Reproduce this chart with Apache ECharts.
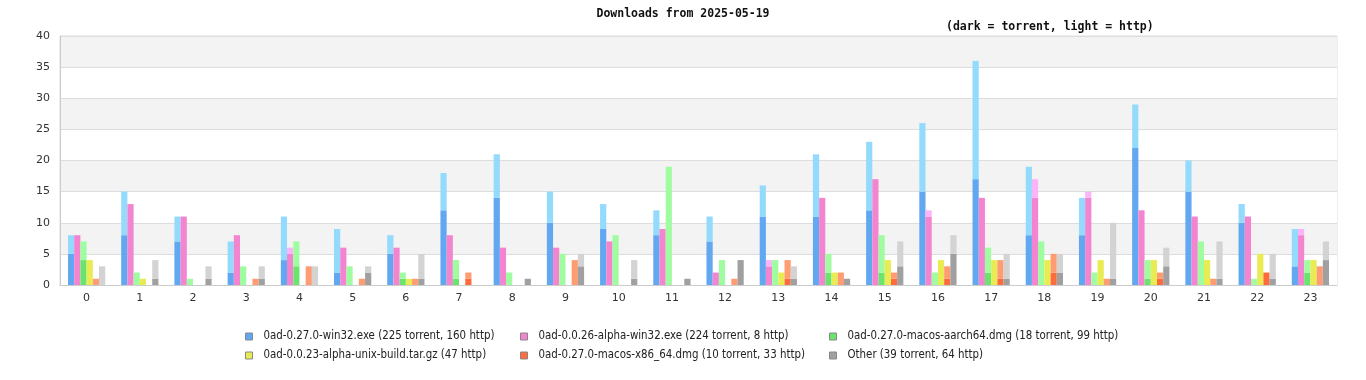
<!DOCTYPE html>
<html>
<head>
<meta charset="utf-8">
<script src="https://cdn.jsdelivr.net/npm/echarts@6/dist/echarts.min.js"></script>
<style>
html,body{margin:0;padding:0;background:#fff;}
#chart{width:1366px;height:380px;}
</style>
</head>
<body>
<div id="chart"></div>
<script>
const hours = ['0','1','2','3','4','5','6','7','8','9','10','11','12','13','14','15','16','17','18','19','20','21','22','23'];
const yTicks = [0, 5, 10, 15, 20, 25, 30, 35, 40];

const seriesNames = [
  '0ad-0.27.0-win32.exe (225 torrent, 160 http)',
  '0ad-0.0.26-alpha-win32.exe (224 torrent, 8 http)',
  '0ad-0.27.0-macos-aarch64.dmg (18 torrent, 99 http)',
  '0ad-0.0.23-alpha-unix-build.tar.gz (47 http)',
  '0ad-0.27.0-macos-x86_64.dmg (10 torrent, 33 http)',
  'Other (39 torrent, 64 http)'
];

const win27Torrent   = [5,8,7,2,4,2,5,12,14,10,9,8,7,11,11,12,15,17,8,8,22,15,10,3];
const win27Http      = [3,7,4,5,7,7,3,6,7,5,4,4,4,5,10,11,11,19,11,6,7,5,3,6];
const win26Torrent   = [8,13,11,8,5,6,6,8,6,6,7,9,2,3,14,17,11,14,14,14,12,11,11,8];
const win26Http      = [0,0,0,0,1,0,0,0,0,0,0,0,0,1,0,0,1,0,3,1,0,0,0,1];
const aarchTorrent   = [4,0,0,0,3,0,1,1,0,0,0,0,0,0,2,2,0,2,0,0,1,0,0,2];
const aarchHttp      = [3,2,1,3,4,3,1,3,2,5,8,19,4,4,3,6,2,4,7,2,3,7,1,2];
const unixTorrent    = [0,0,0,0,0,0,0,0,0,0,0,0,0,0,0,0,0,0,0,0,0,0,0,0];
const unixHttp       = [4,1,0,0,0,0,1,0,0,0,0,0,0,2,2,4,4,4,4,4,4,4,5,4];
const x86Torrent     = [0,0,0,0,0,0,0,1,0,0,0,0,0,1,0,1,1,1,2,0,1,0,2,0];
const x86Http        = [1,0,0,1,3,1,1,1,0,4,0,0,1,3,2,1,2,3,3,1,1,1,0,3];
const otherTorrent   = [0,1,1,1,0,2,1,0,1,3,1,1,4,1,1,3,5,1,2,1,3,1,1,4];
const otherHttp      = [3,3,2,2,3,1,4,0,0,2,3,0,0,2,0,4,3,4,3,9,3,6,4,3];

const darkColors  = ['#62a8f0', '#f384d0', '#6ae46e', '#e8ec52', '#ff6c3c', '#a0a0a0'];
const lightColors = ['#94dafc', '#fcb4f8', '#a0fca0', '#e8ec52', '#ff9c72', '#d3d3d3'];

const torrentData = [win27Torrent, win26Torrent, aarchTorrent, unixTorrent, x86Torrent, otherTorrent];
const httpData    = [win27Http, win26Http, aarchHttp, unixHttp, x86Http, otherHttp];

const series = [];
for (let i = 0; i < seriesNames.length; i++) {
  series.push({
    name: seriesNames[i], type: 'bar', stack: 's' + i,
    data: torrentData[i], itemStyle: { color: darkColors[i] },
    barGap: '0%', barCategoryGap: '30%'
  });
  series.push({
    name: seriesNames[i], type: 'bar', stack: 's' + i,
    data: httpData[i], itemStyle: { color: lightColors[i] },
    barGap: '0%', barCategoryGap: '30%'
  });
}

const legendFont = { fontFamily: 'DejaVu Sans Condensed, DejaVu Sans', fontSize: 11.4, color: '#222', padding: [0, 0, 0, 6] };
function makeLegend(left, names) {
  return {
    orient: 'vertical', left: left, top: 331, padding: 0, itemGap: 8,
    itemWidth: 7, itemHeight: 7, icon: 'rect',
    itemStyle: { borderColor: '#888', borderWidth: 1 },
    textStyle: legendFont, data: names
  };
}

const chart = echarts.init(document.getElementById('chart'), null, { renderer: 'canvas' });
chart.setOption({
  animation: false,
  backgroundColor: '#fff',
  title: [
    { text: 'Downloads from 2025-05-19', left: 'center', top: 3,
      textStyle: { fontFamily: 'DejaVu Sans Mono', fontWeight: 'bold', fontSize: 11.5, color: '#111' } },
    { text: '(dark = torrent, light = http)', left: 941, top: 16,
      textStyle: { fontFamily: 'DejaVu Sans Mono', fontWeight: 'bold', fontSize: 11.5, color: '#111' } }
  ],
  legend: [
    makeLegend(245, [seriesNames[0], seriesNames[3]]),
    makeLegend(520, [seriesNames[1], seriesNames[4]]),
    makeLegend(829, [seriesNames[2], seriesNames[5]])
  ],
  grid: { left: 60, right: 29, top: 36, bottom: 95, show: true, borderColor: '#dddddd', borderWidth: 1, backgroundColor: 'transparent' },
  xAxis: {
    type: 'category', data: hours,
    axisLine: { show: true, lineStyle: { color: '#cccccc' } },
    axisTick: { show: false },
    axisLabel: { color: '#333', fontSize: 11, margin: 8, fontFamily: 'DejaVu Sans' }
  },
  yAxis: {
    type: 'value', min: yTicks[0], max: yTicks[yTicks.length - 1], interval: yTicks[1] - yTicks[0],
    axisLine: { show: true, lineStyle: { color: '#cccccc' } },
    axisTick: { show: false },
    axisLabel: { color: '#333', fontSize: 11, margin: 10, fontFamily: 'DejaVu Sans' },
    splitLine: { show: true, lineStyle: { color: '#dddddd' } },
    splitArea: { show: true, areaStyle: { color: ['#ffffff', '#f3f3f3'] } }
  },
  series: series
});
</script>
</body>
</html>
